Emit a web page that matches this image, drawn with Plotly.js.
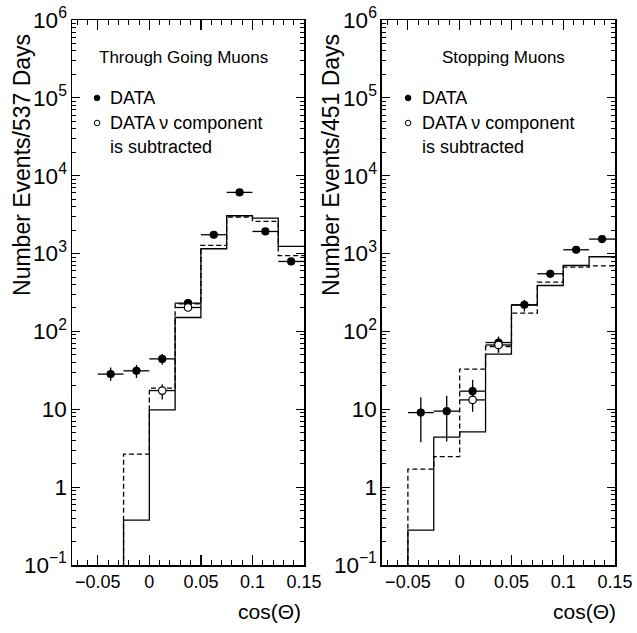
<!DOCTYPE html>
<html>
<head>
<meta charset="utf-8">
<script src="https://cdn.plot.ly/plotly-3.0.1.min.js"></script>
<style>html,body{margin:0;padding:0;background:#fff;}#chart{width:637px;height:633px;}</style>
</head>
<body>
<div id="chart"></div>
<script>
// ---- data ----
const binCenters = [-0.0375, -0.0125, 0.0125, 0.0375, 0.0625, 0.0875, 0.1125, 0.1375];
const binHalf = 0.0125;

// Through going muons (left)
const tgData      = [28.3, 31.2, 44.4, 231, 1746, 6107, 1923, 792];
const tgDataUp    = [6, 6, 7, 15, 42, 78, 44, 28];
const tgDataDown  = [5, 6, 7, 15, 42, 78, 44, 28];
const tgSubX      = [0.0125, 0.0375];
const tgSub       = [17.4, 203];
const tgSubUp     = [3.5, 14];
const tgSubDown   = [4, 14];
const tgEdges     = [-0.025, 0, 0.025, 0.05, 0.075, 0.1, 0.125, 0.15];
const tgSolid     = [0.378, 9.8, 151, 1153, 3062, 2860, 1235];
const tgDashed    = [2.65, 18.7, 226, 1273, 2950, 2590, 940];

// Stopping muons (right)
const stData      = [9.07, 9.47, 17.1, 72, 220, 550, 1119, 1535];
const stDataUp    = [5.2, 5.4, 6.8, 14, 35, 70, 35, 40];
const stDataDown  = [5.3, 5.6, 5.1, 17, 40, 66, 35, 40];
const stSubX      = [0.0125, 0.0375];
const stSub       = [13.2, 67];
const stSubUp     = [4.9, 14];
const stSubDown   = [3.9, 14];
const stEdges     = [-0.05, -0.025, 0, 0.025, 0.05, 0.075, 0.1, 0.125, 0.15];
const stSolid     = [0.28, 4.38, 5.12, 51, 218, 389, 703, 910];
const stDashed    = [1.70, 2.47, 32.8, 64, 172, 431, 670, 697];

// ---- helpers ----
const FONT = 'Liberation Sans, Arial, sans-serif';
function step(edges, vals, dash, xa, ya) {
  const x = [edges[0]].concat(edges);
  const y = [1e-3].concat(vals).concat([vals[vals.length - 1]]);
  return {x: x, y: y, xaxis: xa, yaxis: ya, mode: 'lines', type: 'scatter',
    line: {shape: 'hv', color: 'black', width: 1.3, dash: dash}, hoverinfo: 'skip'};
}
function pts(x, y, up, down, filled, xa, ya) {
  return {x: x, y: y, xaxis: xa, yaxis: ya, mode: 'markers', type: 'scatter',
    marker: {symbol: 'circle', size: filled ? 7 : 7.5, color: filled ? 'black' : 'white',
             line: {color: 'black', width: 1.2}},
    error_x: {type: 'constant', value: binHalf, width: 0, color: 'black', thickness: 1.3},
    error_y: {type: 'data', array: up, arrayminus: down, width: 0, color: 'black', thickness: 1.3}};
}

const traces = [
  step(tgEdges, tgSolid, 'solid', 'x', 'y'),
  step(tgEdges, tgDashed, '5px,3px', 'x', 'y'),
  pts(binCenters, tgData, tgDataUp, tgDataDown, true, 'x', 'y'),
  pts(tgSubX, tgSub, tgSubUp, tgSubDown, false, 'x', 'y'),
  step(stEdges, stSolid, 'solid', 'x2', 'y2'),
  step(stEdges, stDashed, '5px,3px', 'x2', 'y2'),
  pts(binCenters, stData, stDataUp, stDataDown, true, 'x2', 'y2'),
  pts(stSubX, stSub, stSubUp, stSubDown, false, 'x2', 'y2')
];

function xax(domain, anchor) {
  return {domain: domain, anchor: anchor, range: [-0.075, 0.15], tick0: 0, dtick: 0.05,
    ticks: 'inside', ticklen: 10, tickwidth: 1.2, tickcolor: 'black',
    showline: true, linecolor: 'black', linewidth: 1.5, mirror: 'ticks',
    showgrid: false, zeroline: false,
    tickfont: {family: FONT, size: 18, color: 'black'},
    minor: {dtick: 0.01, tick0: 0, ticks: 'inside', ticklen: 5, tickwidth: 1, tickcolor: 'black', showgrid: false}};
}
function yax(anchor) {
  return {anchor: anchor, type: 'log', range: [-1, 6], dtick: 1, exponentformat: 'power',
    ticks: 'inside', ticklen: 8, tickwidth: 1.2, tickcolor: 'black',
    showline: true, linecolor: 'black', linewidth: 1.5, mirror: 'ticks',
    showgrid: false, zeroline: false,
    tickfont: {family: FONT, size: 18, color: 'black'},
    minor: {dtick: 'D1', ticks: 'inside', ticklen: 4, tickwidth: 1, tickcolor: 'black', showgrid: false}};
}

function txt(xref, yref, x, y, s, size, extra) {
  return Object.assign({xref: xref, yref: yref, x: x, y: y, text: s, showarrow: false,
    xanchor: 'left', yanchor: 'middle', font: {family: FONT, size: size, color: 'black'}}, extra || {});
}

const annotations = [
  txt('x domain', 'y domain', 0.108, 0.932, 'Through Going Muons', 17),
  txt('x domain', 'y domain', 0.155, 0.857, 'DATA', 18),
  txt('x domain', 'y domain', 0.155, 0.811, 'DATA ν component', 18),
  txt('x domain', 'y domain', 0.155, 0.767, 'is subtracted', 18),
  txt('x2 domain', 'y2 domain', 0.249, 0.932, 'Stopping Muons', 17),
  txt('x2 domain', 'y2 domain', 0.163, 0.857, 'DATA', 18),
  txt('x2 domain', 'y2 domain', 0.163, 0.811, 'DATA ν component', 18),
  txt('x2 domain', 'y2 domain', 0.163, 0.767, 'is subtracted', 18),
  txt('paper', 'paper', -0.0921, 0.734, 'Number Events/537 Days', 23, {xanchor: 'center', textangle: -90}),
  txt('paper', 'paper', 0.4770, 0.734, 'Number Events/451 Days', 23, {xanchor: 'center', textangle: -90}),
  txt('paper', 'paper', 0.3646, -0.086, 'cos(Θ)', 21, {xanchor: 'center'}),
  txt('paper', 'paper', 0.943, -0.086, 'cos(Θ)', 21, {xanchor: 'center'})
];

function dot(xref, yref, x, y, filled) {
  return {type: 'circle', xref: xref, yref: yref, xsizemode: 'pixel', ysizemode: 'pixel',
    xanchor: x, yanchor: y, x0: -2.8, x1: 2.8, y0: -2.8, y1: 2.8,
    fillcolor: filled ? 'black' : 'white', line: {color: 'black', width: 1}};
}
const shapes = [
  dot('x domain', 'y domain', 0.108, 0.857, true),
  dot('x domain', 'y domain', 0.108, 0.811, false),
  dot('x2 domain', 'y2 domain', 0.112, 0.857, true),
  dot('x2 domain', 'y2 domain', 0.112, 0.811, false)
];

const layout = {
  width: 637, height: 633,
  margin: {l: 72, r: 22, t: 20, b: 68},
  paper_bgcolor: 'white', plot_bgcolor: 'white',
  showlegend: false,
  xaxis: xax([0, 0.4273], 'y'),
  yaxis: yax('x'),
  xaxis2: xax([0.5709, 1], 'y2'),
  yaxis2: yax('x2'),
  annotations: annotations,
  shapes: shapes,
  font: {family: FONT, color: 'black'}
};

Plotly.newPlot('chart', traces, layout, {staticPlot: true});
</script>
</body>
</html>
